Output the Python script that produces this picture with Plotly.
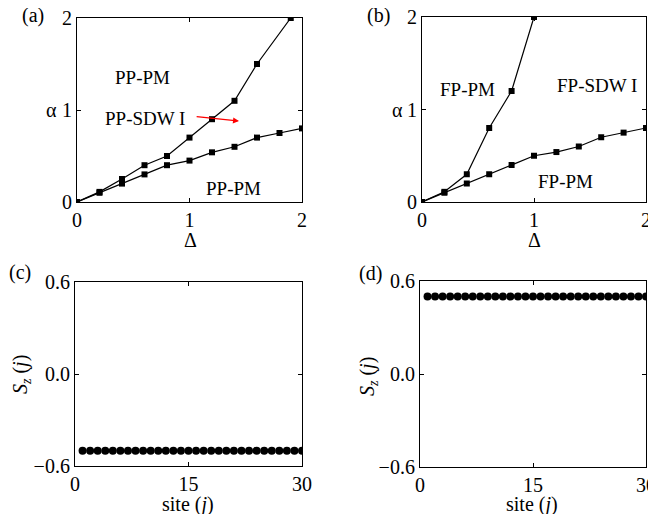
import plotly.graph_objects as go

# ---- data ----
a_upper_x = [0, 0.2, 0.4, 0.6, 0.8, 1.0, 1.2, 1.4, 1.6, 1.9]
a_upper_y = [0, 0.11, 0.25, 0.4, 0.5, 0.7, 0.9, 1.1, 1.5, 2.0]
a_lower_x = [0, 0.2, 0.4, 0.6, 0.8, 1.0, 1.2, 1.4, 1.6, 1.8, 2.0]
a_lower_y = [0, 0.1, 0.2, 0.3, 0.4, 0.45, 0.54, 0.6, 0.7, 0.75, 0.8]

b_upper_x = [0, 0.2, 0.4, 0.6, 0.8, 1.0]
b_upper_y = [0, 0.11, 0.3, 0.8, 1.2, 2.0]
b_lower_x = [0, 0.2, 0.4, 0.6, 0.8, 1.0, 1.2, 1.4, 1.6, 1.8, 2.0]
b_lower_y = [0, 0.1, 0.2, 0.3, 0.4, 0.5, 0.54, 0.6, 0.7, 0.75, 0.8]

sites = list(range(1, 31))
c_sz = [-0.5] * 30
d_sz = [0.5] * 30

# page body has an 8px margin; lay out in reference-pixel space then offset
OFF = 8
W, H = 656 - 2 * OFF, 522 - 2 * OFF
FONT = "Liberation Serif, Times New Roman, serif"

fig = go.Figure()

def px(x):
    return (x - OFF) / W

def py(y):
    return 1 - (y - OFF) / H

line_style = dict(color="black", width=1.2)
sq = dict(symbol="square", size=6, color="black")
dot = dict(symbol="circle", size=8, color="black")

fig.add_trace(go.Scatter(x=a_upper_x, y=a_upper_y, mode="lines+markers", line=line_style, marker=sq, xaxis="x", yaxis="y"))
fig.add_trace(go.Scatter(x=a_lower_x, y=a_lower_y, mode="lines+markers", line=line_style, marker=sq, xaxis="x", yaxis="y"))
fig.add_trace(go.Scatter(x=b_upper_x, y=b_upper_y, mode="lines+markers", line=line_style, marker=sq, xaxis="x2", yaxis="y2"))
fig.add_trace(go.Scatter(x=b_lower_x, y=b_lower_y, mode="lines+markers", line=line_style, marker=sq, xaxis="x2", yaxis="y2"))
fig.add_trace(go.Scatter(x=sites, y=c_sz, mode="markers", marker=dot, xaxis="x3", yaxis="y3"))
fig.add_trace(go.Scatter(x=sites, y=d_sz, mode="markers", marker=dot, xaxis="x4", yaxis="y4"))

def axis(domain, rng, tickvals, ticktext, anchor):
    return dict(domain=domain, range=rng, tickvals=tickvals, ticktext=ticktext,
                showline=True, linecolor="black", linewidth=1.2, mirror="ticks",
                ticks="inside", ticklen=4, tickcolor="black", showgrid=False,
                zeroline=False, anchor=anchor, automargin=False,
                ticklabeloverflow="allow",
                tickfont=dict(family=FONT, size=20, color="black"))

fig.update_layout(
    template="none",
    width=W, height=H,
    margin=dict(l=0, r=0, t=0, b=0, autoexpand=False),
    paper_bgcolor="white", plot_bgcolor="white",
    showlegend=False,
    font=dict(family=FONT, color="black"),
    xaxis=axis([px(77), px(302)], [0, 2], [0, 1, 2], ["0", "1", "2"], "y"),
    yaxis=axis([py(202), py(18)], [0, 2], [0, 1, 2], ["0", "1", "2"], "x"),
    xaxis2=axis([px(422), px(646)], [0, 2], [0, 1, 2], ["0", "1", "2"], "y2"),
    yaxis2=axis([py(202), py(17)], [0, 2], [0, 1, 2], ["0", "1", "2"], "x2"),
    xaxis3=axis([px(75), px(302)], [0, 30], [0, 15, 30], ["0", "15", "30"], "y3"),
    yaxis3=axis([py(466), py(282)], [-0.6, 0.6], [-0.6, 0, 0.6], ["\u22120.6", "0.0", "0.6"], "x3"),
    xaxis4=axis([px(420), px(646)], [0, 30], [0, 15, 30], ["0", "15", "30"], "y4"),
    yaxis4=axis([py(467), py(281)], [-0.6, 0.6], [-0.6, 0, 0.6], ["\u22120.6", "0.0", "0.6"], "x4"),
)

ann = []
def label(text, x, y, size=20, **kw):
    d = dict(text=text, x=px(x), y=py(y), xref="paper", yref="paper", showarrow=False,
             font=dict(family=FONT, size=size, color="black"), xanchor="center", yanchor="middle")
    d.update(kw)
    ann.append(d)

# panel labels
label("(a)", 33, 15)
label("(b)", 378, 15)
label("(c)", 20, 272)
label("(d)", 370, 273)
# alpha labels
label("\u03b1", 51, 110)
label("\u03b1", 397, 110)
# Delta labels
label("\u0394", 190, 240)
label("\u0394", 534, 240)
# S_z(j)
label("<i>S</i><sub><i>z</i></sub> (<i>j</i>)", 21, 375, textangle=-90)
label("<i>S</i><sub><i>z</i></sub> (<i>j</i>)", 368, 377, textangle=-90)
# site (j)
label("site (<i>j</i>)", 188, 504)
label("site (<i>j</i>)", 532, 504)

def dlabel(text, x, y, xr, yr):
    ann.append(dict(text=text, x=x, y=y, xref=xr, yref=yr, showarrow=False,
                    font=dict(family=FONT, size=19, color="black"), xanchor="center", yanchor="middle"))

dlabel("PP-PM", 0.58, 1.35, "x", "y")
dlabel("PP-SDW I", 0.6, 0.91, "x", "y")
dlabel("PP-PM", 1.39, 0.15, "x", "y")
dlabel("FP-PM", 0.41, 1.22, "x2", "y2")
dlabel("FP-SDW I", 1.56, 1.26, "x2", "y2")
dlabel("FP-PM", 1.28, 0.22, "x2", "y2")

ann.append(dict(x=1.44, y=0.88, ax=1.05, ay=0.93, xref="x", yref="y", axref="x", ayref="y",
                showarrow=True, arrowhead=2, arrowsize=1, arrowwidth=1.2, arrowcolor="red", text=""))

fig.update_layout(annotations=ann)

fig.write_html("out.html")
